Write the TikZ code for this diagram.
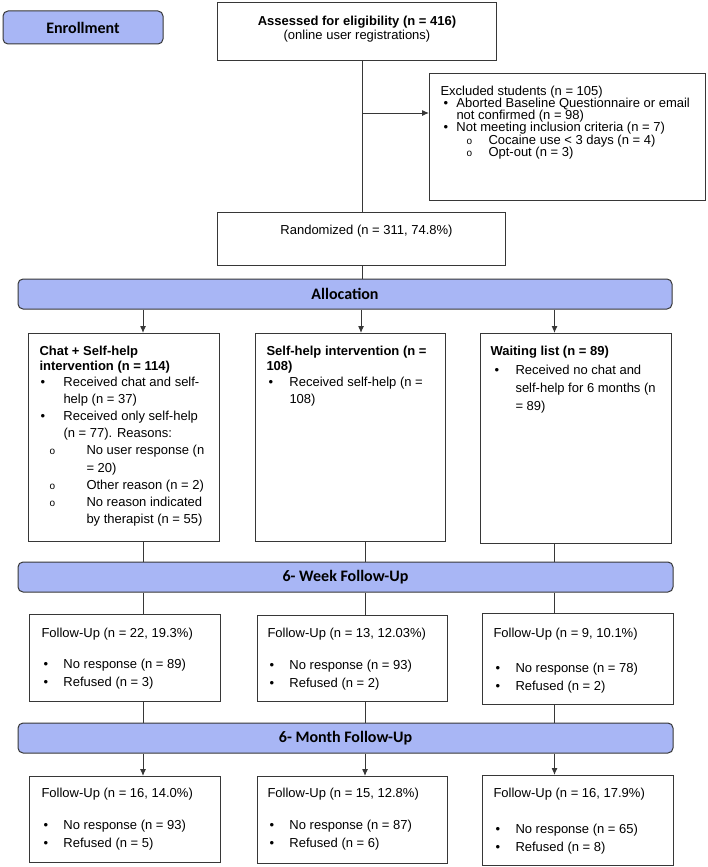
\documentclass[tikz,border=0pt]{standalone}
\usepackage{fontspec}
\setmainfont{Liberation Sans}
\newfontfamily\calibri{Carlito}
\usetikzlibrary{arrows.meta}

\definecolor{bandblue}{RGB}{168,182,245}
\definecolor{edgegray}{RGB}{55,55,55}

% text block inside a box: width, height, top gap, line distance, text
\newcommand{\boxtxt}[5]{\parbox[c][#2pt][t]{#1pt}{\lineskiplimit=-20pt\fontsize{13}{#4}\selectfont\vspace*{#3pt}\rule{0pt}{10pt}#5}}
\newcommand{\bul}{\textbullet}
\newcommand{\subb}{{\fontsize{10}{10}\selectfont o}}
\newcommand{\fu}[4]{#1\\[#2pt]\hspace*{2pt}\makebox[20pt][l]{\bul}No response (n = #3)\\\hspace*{2pt}\makebox[20pt][l]{\bul}Refused (n = #4)}

\begin{document}
\begin{tikzpicture}[x=1pt,y=-1pt,
    band/.style={draw=edgegray,fill=bandblue,rounded corners=5pt,line width=1pt,inner sep=0pt,
        font=\calibri\bfseries\fontsize{16}{19}\selectfont},
    box/.style={draw=edgegray,fill=white,line width=1pt,inner ysep=0pt,anchor=north west},
    conn/.style={draw=edgegray,line width=1pt},
    arr/.style={conn,-{Latex[length=7pt,width=6pt]}}]
    \useasboundingbox (0,0) rectangle (708,867);

    % enrollment
    \node [band,minimum width=160pt,minimum height=33pt] (enrol) at (83,27.5) {Enrollment};
    \node [box,inner xsep=0pt] (assess) at (217,2) {\boxtxt{279}{58}{13}{14}{\centering\textbf{Assessed for eligibility (n = 416)}\\(online user registrations)}};
    \node [box,inner xsep=11pt] (excl) at (429,73) {\boxtxt{254}{127}{11.5}{12.3}{Excluded students (n = 105)\\
        \hspace*{3pt}\makebox[13pt][l]{\bul}Aborted Baseline Questionnaire or email\\
        \hspace*{16pt}not confirmed (n = 98)\\
        \hspace*{3pt}\makebox[13pt][l]{\bul}Not meeting inclusion criteria (n = 7)\\
        \hspace*{26pt}\makebox[22pt][l]{\subb}Cocaine use < 3 days (n = 4)\\
        \hspace*{26pt}\makebox[22pt][l]{\subb}Opt-out (n = 3)}};
    \node [box,inner xsep=0pt] (rand) at (217,212) {\boxtxt{288}{53}{11.5}{14}{\centering\hspace*{10pt}Randomized (n = 311, 74.8\%)}};

    % allocation
    \node [band,minimum width=654pt,minimum height=30pt] (alloc) at (345,294) {Allocation};
    \node [box,inner xsep=11pt] (chat) at (28,333) {\boxtxt{169}{208}{12}{17.2}{\textbf{Chat + Self-help}\\[-2.2pt]\textbf{intervention (n = 114)}\\[-1.7pt]
        \hspace*{1pt}\makebox[23pt][l]{\bul}Received chat and self-\\
        \hspace*{24pt}help (n = 37)\\
        \hspace*{1pt}\makebox[23pt][l]{\bul}Received only self-help\\
        \hspace*{24pt}(n = 77). Reasons:\\
        \hspace*{10pt}\makebox[37pt][l]{\subb}No user response (n\\
        \hspace*{47pt}= 20)\\
        \hspace*{10pt}\makebox[37pt][l]{\subb}Other reason (n = 2)\\
        \hspace*{10pt}\makebox[37pt][l]{\subb}No reason indicated\\
        \hspace*{47pt}by therapist (n = 55)}};
    \node [box,inner xsep=11pt] (self) at (255,333) {\boxtxt{168}{208}{12}{17.2}{\textbf{Self-help intervention (n =}\\[-2.2pt]\textbf{108)}\\[-1.2pt]
        \hspace*{2pt}\makebox[21pt][l]{\bul}Received self-help (n =\\
        \hspace*{23pt}108)}};
    \node [box,inner xsep=10pt] (wait) at (480,333) {\boxtxt{171}{210}{12}{18}{\textbf{Waiting list (n = 89)}\\[1pt]
        \hspace*{4pt}\makebox[21pt][l]{\bul}Received no chat and\\
        \hspace*{25pt}self-help for 6 months (n\\
        \hspace*{25pt}= 89)}};

    % 6 weeks
    \node [band,minimum width=655pt,minimum height=30pt] (week) at (345.5,577) {6- Week Follow-Up};
    \node [box,inner xsep=12pt] (fwa) at (29,614) {\boxtxt{167}{87}{13}{18}{\fu{Follow-Up (n = 22, 19.3\%)}{13}{89}{3}}};
    \node [box,inner xsep=10pt] (fwb) at (257,615) {\boxtxt{170}{86}{12}{18}{\fu{Follow-Up (n = 13, 12.03\%)}{14}{93}{2}}};
    \node [box,inner xsep=11pt] (fwc) at (482,613) {\boxtxt{169}{91}{14}{18}{\fu{Follow-Up (n = 9, 10.1\%)}{17}{78}{2}}};

    % 6 months
    \node [band,minimum width=655pt,minimum height=30pt] (month) at (345.5,738) {6- Month Follow-Up};
    \node [box,inner xsep=12pt] (fma) at (29,776) {\boxtxt{167}{86}{11}{18}{\fu{Follow-Up (n = 16, 14.0\%)}{14}{93}{5}}};
    \node [box,inner xsep=10pt] (fmb) at (257,776) {\boxtxt{170}{87}{11}{18}{\fu{Follow-Up (n = 15, 12.8\%)}{14}{87}{6}}};
    \node [box,inner xsep=11pt] (fmc) at (482,775) {\boxtxt{169}{90}{12}{18}{\fu{Follow-Up (n = 16, 17.9\%)}{18}{65}{8}}};

    % columns of the connectors
    \coordinate (colA) at (362,0);
    \coordinate (col1) at (143,0);
    \coordinate (col2) at (361,0);
    \coordinate (col2b) at (365,0);
    \coordinate (col3) at (554.5,0);
    \coordinate (branch) at (362,113);

    \draw[conn] (assess.south -| colA) -- (rand.north -| colA);
    \draw[arr] (branch) -- (branch -| excl.west);
    \draw[conn] (rand.south -| colA) -- (alloc.north -| colA);
    \draw[arr] (alloc.south -| col1) -- (chat.north -| col1);
    \draw[arr] (alloc.south -| col2) -- (self.north -| col2);
    \draw[arr] (alloc.south -| col3) -- (wait.north -| col3);
    \draw[conn] (chat.south -| col1) -- (week.north -| col1);
    \draw[conn] (self.south -| col2b) -- (week.north -| col2b);
    \draw[conn] (wait.south -| col3) -- (week.north -| col3);
    \draw[conn] (week.south -| col1) -- (fwa.north -| col1);
    \draw[conn] (week.south -| col2b) -- (fwb.north -| col2b);
    \draw[conn] (week.south -| col3) -- (fwc.north -| col3);
    \draw[conn] (fwa.south -| col1) -- (month.north -| col1);
    \draw[conn] (fwb.south -| col2b) -- (month.north -| col2b);
    \draw[conn] (fwc.south -| col3) -- (month.north -| col3);
    \draw[arr] (month.south -| col1) -- (fma.north -| col1);
    \draw[arr] (month.south -| col2b) -- (fmb.north -| col2b);
    \draw[arr] (month.south -| col3) -- (fmc.north -| col3);
\end{tikzpicture}
\end{document}
